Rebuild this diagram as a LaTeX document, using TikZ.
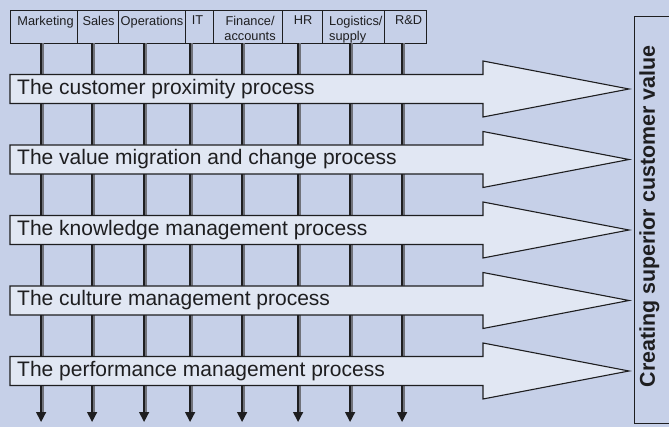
\documentclass[tikz,border=0pt]{standalone}
\usepackage{fontspec}
\setmainfont{Liberation Sans}
\usetikzlibrary{arrows.meta}
\definecolor{bg}{RGB}{198,208,232}
\definecolor{arrfill}{RGB}{225,231,243}
\definecolor{ink}{RGB}{30,30,32}
\definecolor{lgray}{RGB}{112,114,122}
\tikzset{
  hbox/.style={draw=ink, line width=1.1pt, minimum height=33pt, inner sep=0pt, anchor=north west},
  htext/.style={anchor=north, inner sep=0pt, text=ink, align=center, font=\fontsize{12.8}{15}\selectfont},
  ptext/.style={anchor=base west, inner sep=0pt, text=ink, font=\fontsize{21}{25}\selectfont},
  procarrow/.style={draw=ink, line width=1.1pt, fill=arfill},
  darkline/.style={draw=ink, line width=1.5pt},
  grayline/.style={draw=lgray, line width=1.9pt},
  goalbox/.style={draw=ink, line width=1.2pt, inner sep=0pt, anchor=north west},
  goaltext/.style={rotate=90, text=ink, font=\fontsize{21.4}{25}\selectfont\bfseries}
}
\colorlet{arfill}{arrfill}
\begin{document}
\begin{tikzpicture}[x=1pt,y=-1pt]
\fill[bg] (0,0) rectangle (669,427);
\useasboundingbox (0,0) rectangle (669,427);

% header boxes
\foreach \n/\xl/\xr in {h1/10/77, h2/77/118, h3/118/185, h4/185/213, h5/213/282, h6/282/322, h7/322/384, h8/384/426} {
  \pgfmathsetmacro{\w}{\xr-\xl}
  \node[hbox, minimum width=\w pt] (\n) at (\xl,10) {};
}
\node[htext] (t1) at ([xshift=1.5pt,yshift=-5.6pt]h1.north) {Marketing};
\node[htext] (t2) at ([xshift=0.5pt,yshift=-5.6pt]h2.north) {Sales};
\node[htext] (t3) at ([yshift=-5.6pt]h3.north) {Operations};
\node[htext] (t4) at ([xshift=-2pt,yshift=-5.6pt]h4.north) {IT};
\node[htext] (t5) at ([xshift=2pt,yshift=-5.6pt]h5.north) {Finance/\\accounts};
\node[htext] (t6) at ([xshift=0.5pt,yshift=-5.6pt]h6.north) {HR};
\node[htext, anchor=north west, align=left] (t7) at ([xshift=7pt,yshift=-5.6pt]h7.north west) {Logistics/\\supply};
\node[htext] (t8) at ([xshift=3pt,yshift=-5.6pt]h8.north) {R\&D};

% vertical double lines from header boxes down to the bottom arrows
\foreach \i/\x in {1/42, 2/93, 3/145, 4/191, 5/243, 6/299, 7/351, 8/403} {
  \coordinate (top\i) at (\x,43);
  \coordinate (bot\i) at (\x,422);
  \draw[grayline] ([xshift=0.9pt]top\i) -- ([xshift=0.9pt,yshift=10pt]bot\i);
  \draw[darkline, -{Triangle[length=10pt,width=10pt]}] ([xshift=-0.9pt]top\i) -- ([xshift=-0.9pt]bot\i);
}

% process arrows
\foreach \n/\c/\txt in {
  p1/89/{The customer proximity process},
  p2/159.5/{The value migration and change process},
  p3/230/{The knowledge management process},
  p4/300.5/{The culture management process},
  p5/371/{The performance management process}} {
  \draw[procarrow] (10,\c-14.5) -- (483,\c-14.5) -- (483,\c-28) -- (629,\c)
        -- (483,\c+28) -- (483,\c+14.5) -- (10,\c+14.5) -- cycle;
  \node[ptext] (\n) at (17,\c+5.3) {\txt};
}

% goal box
\node[goalbox, minimum width=50pt, minimum height=407pt] (goal) at (634,16) {};
\node[goaltext] (goaltxt) at (649.5,216.5) {Creating superior customer value};
\end{tikzpicture}
\end{document}
